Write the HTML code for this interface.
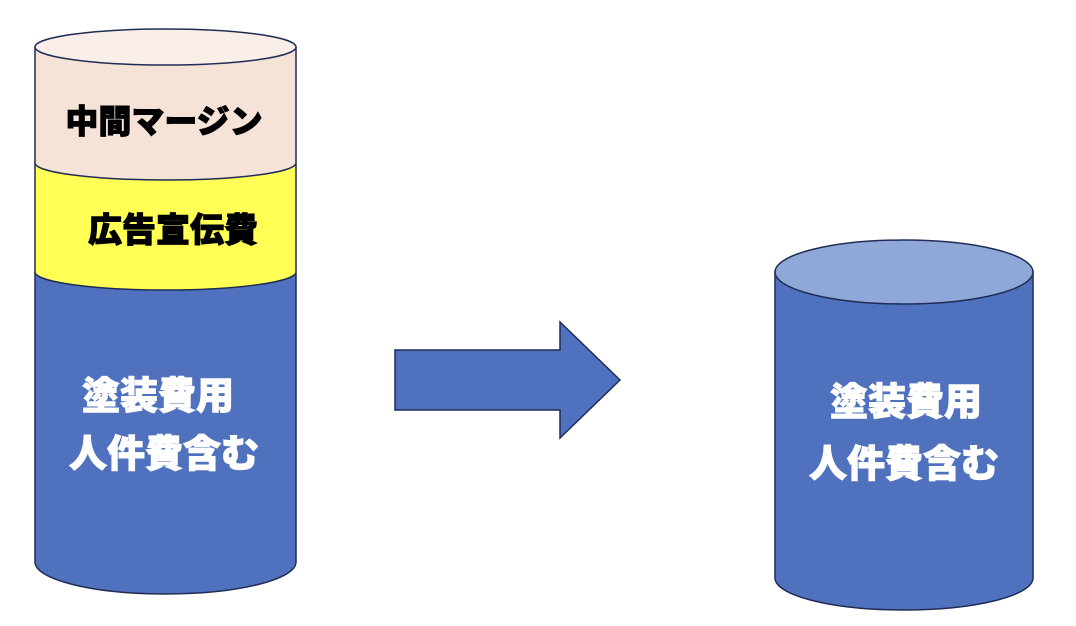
<!DOCTYPE html>
<html><head><meta charset="utf-8"><style>
html,body{margin:0;padding:0;background:#fff;}
svg{display:block}
text{font-family:"Liberation Sans","Noto Sans CJK JP",sans-serif;font-weight:900;}
</style></head><body>
<svg width="1076" height="626" viewBox="0 0 1076 626" xmlns="http://www.w3.org/2000/svg">
<g stroke="#1f2d55" stroke-width="1.5">
<path d="M35,272 L35,562 A130.5,32 0 0 0 296,562 L296,272 Z" fill="#4f71be"/>
<path d="M35,163 L35,272 A130.5,18 0 0 0 296,272 L296,163 Z" fill="#ffff55"/>
<path d="M35,47 L35,163 A130.5,17 0 0 0 296,163 L296,47 Z" fill="#f6e3d8"/>
<ellipse cx="165.5" cy="47" rx="130.5" ry="18" fill="#faeee8"/>
<path d="M395,350 L560,350 L560,322 L620,380 L560,438 L560,410 L395,410 Z" fill="#4f71be"/>
<path d="M775,272 L775,578 A129,32 0 0 0 1033,578 L1033,272 Z" fill="#4f71be"/>
<ellipse cx="904" cy="272" rx="129" ry="32" fill="#8fa8d8"/>
</g>
<g stroke-width="1">
<text x="164" y="133" font-size="33" text-anchor="middle" fill="#000" stroke="#000">中間マージン</text>
<text x="173" y="242" font-size="34" text-anchor="middle" fill="#000" stroke="#000">広告宣伝費</text>
<text x="158" y="409" font-size="38" text-anchor="middle" fill="#fff" stroke="#fff">塗装費用</text>
<text x="164" y="467" font-size="38" text-anchor="middle" fill="#fff" stroke="#fff">人件費含む</text>
<text x="906" y="415" font-size="38" text-anchor="middle" fill="#fff" stroke="#fff">塗装費用</text>
<text x="904" y="477" font-size="38" text-anchor="middle" fill="#fff" stroke="#fff">人件費含む</text>
</g>
</svg>
</body></html>
